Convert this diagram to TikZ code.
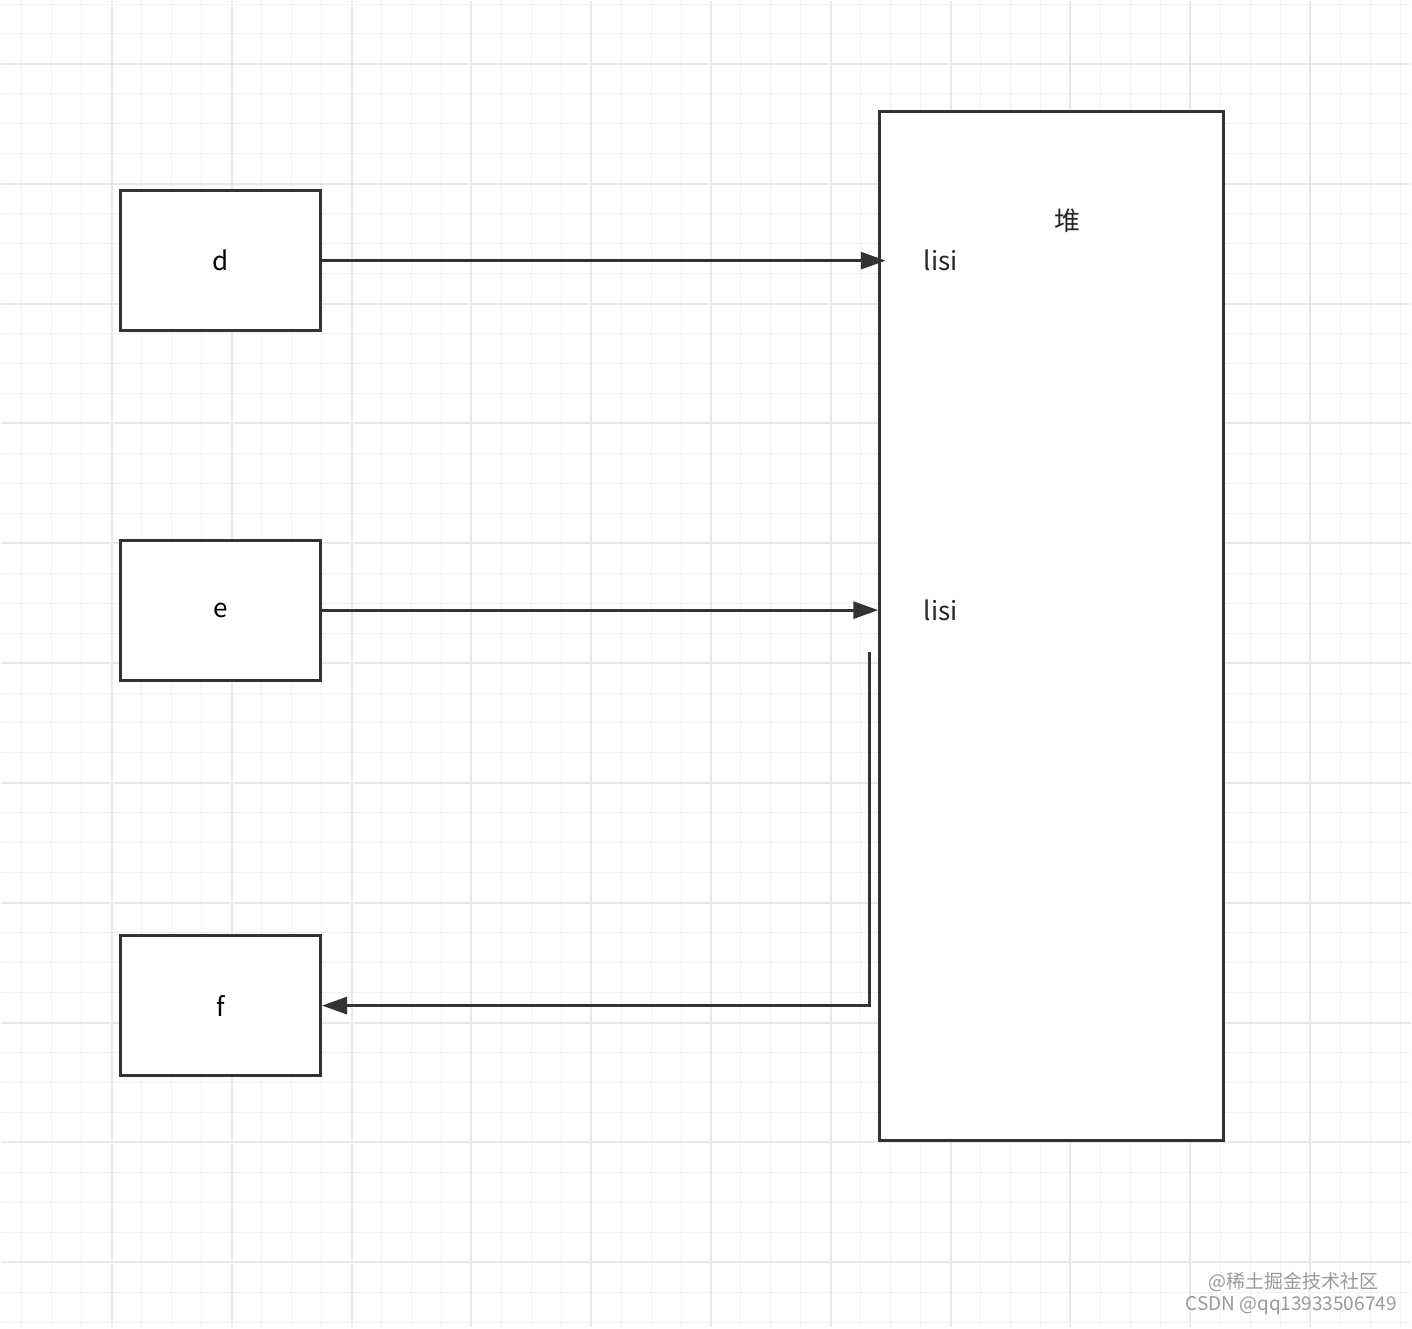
\documentclass[tikz,border=0pt]{standalone}
\usepackage{fontspec}
\setmainfont{Noto Sans CJK SC}
\usetikzlibrary{arrows.meta}

\begin{document}
\begin{tikzpicture}[x=0.5pt,y=-0.5pt] % память: стек и куча
\tikzstyle{minorline} = [draw=black!5, line width=0.5pt] % тонкая линия сетки
\tikzstyle{majorline} = [draw=black!9, line width=1pt] % толстая линия сетки
\tikzstyle{varbox} = [rectangle, draw=black!80, fill=white, line width=1.5pt, minimum width=100pt, minimum height=70pt, font=\fontsize{13}{15}\selectfont] % переменная
\tikzstyle{heapbox} = [rectangle, draw=black!80, fill=white, line width=1.5pt, minimum width=172pt, minimum height=515pt] % куча
\tikzstyle{heaptext} = [inner sep=0pt, font=\fontsize{13}{15}\selectfont, text=black!85]
\tikzstyle{watermark} = [inner sep=0pt, font=\fontsize{9.5}{11}\selectfont, text=black!40]
\tikzstyle{pointer} = [draw=black!80, line width=1.5pt, -{Triangle[length=12.5pt,width=8.5pt]}] % ссылка

\fill[white] (0,0) rectangle (1412,1328);
% сетка
\foreach \x in {21,51,...,1411} \draw[minorline] (\x,0) -- (\x,1328);
\foreach \y in {3,33,...,1327} \draw[minorline] (0,\y) -- (1412,\y);
\foreach \x in {111,231,...,1411} \draw[majorline] (\x,0) -- (\x,1328);
\foreach \y in {63,183,...,1327} \draw[majorline] (0,\y) -- (1412,\y);

\node[varbox] (d) at (220,260) {d};
\node[varbox] (e) at (220,610) {\raisebox{-0.1ex}{e}};
\node[varbox] (f) at (220,1006) {f};
\node[heapbox] (heap) at (1052,626) {};
\node[heaptext] (heapname) at (1068,220) {堆};
\node[heaptext] (lisiA) at (941,260) {lisi};
\node[heaptext] (lisiB) at (941,610) {lisi};

\coordinate (tipA) at (886,260);
\coordinate (fromB) at (870,652);
\draw[pointer] (d.east) -- (tipA);
\draw[pointer] (e.east) -- (e.east -| heap.west);
\draw[pointer] (fromB) |- (f.east);

\node[watermark, anchor=east] (wmA) at (1380,1283) {@稀土掘金技术社区};
\node[watermark, anchor=east] (wmB) at (1398,1306) {CSDN @qq13933506749};
\end{tikzpicture}
\end{document}
